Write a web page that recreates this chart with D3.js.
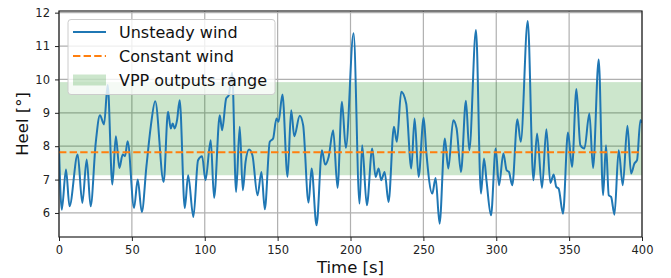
<!DOCTYPE html>
<html>
<head>
<meta charset="utf-8">
<script src="https://cdn.jsdelivr.net/npm/d3@7"></script>
<style>
body { margin: 0; background: #fff; }
text { font-family: "DejaVu Sans", sans-serif; }
</style>
</head>
<body>
<div id="chart"></div>
<script>
// values (turning points of the heel signal)
var time = [0, 1.9, 4.8, 7.2, 12.8, 16.0, 19.0, 21.7, 25.2, 28.1, 30.9, 33.4, 36.6, 39.0, 41.4, 43.7, 45.3, 47.1,
  51.5, 54.0, 56.8, 60.0, 63.0, 66.0, 71.8, 74.8, 76.7, 78.0, 79.4, 81.0, 82.8, 86.3, 88.6, 92.2, 95.4, 98.2,
  100.5, 104.1, 106.4, 110.3, 111.9, 114.7, 116.5, 118.8, 121.5, 124.0, 126.1, 128.0, 130.4, 132.7, 136.2, 138.9,
  141.2, 144.6, 146.9, 149.2, 150.6, 153.3, 156.8, 159.3, 161.4, 165.2, 167.5, 171.2, 173.3, 176.7, 180.4, 182.6,
  185.0, 188.1, 191.1, 194.1, 196.8, 202.1, 206.2, 208.0, 211.2, 214.9, 217.2, 219.3, 221.1, 223.4, 226.1, 229.8,
  231.8, 234.8, 238.2, 241.7, 244.0, 246.7, 250.2, 252.0, 256.1, 258.4, 261.1, 264.7, 267.1, 270.5, 272.8, 275.8,
  279.2, 281.5, 286.1, 289.5, 291.6, 293.4, 296.4, 299.6, 301.9, 304.9, 307.1, 308.7, 311.0, 314.5, 316.8, 321.6,
  325.5, 328.0, 331.4, 334.4, 337.1, 339.4, 341.2, 342.8, 345.8, 349.2, 352.0, 355.0, 357.7, 360.5, 363.9, 366.4,
  370.3, 373.3, 375.3, 377.2, 378.8, 381.1, 384.0, 386.8, 390.0, 392.5, 394.8, 396.6, 398.9, 400];
var heel = [7.95, 6.1, 7.3, 6.2, 7.75, 6.3, 7.6, 6.2, 8.1, 8.93, 8.65, 9.83, 6.85, 8.3, 7.35, 7.75, 7.7, 8.15,
  6.15, 7.0, 6.03, 7.4, 8.6, 9.35, 6.93, 9.03, 8.53, 8.68, 8.53, 8.78, 9.38, 6.15, 7.13, 5.88, 7.58, 7.7,
  6.98, 8.18, 6.45, 8.93, 8.48, 9.43, 9.53, 10.2, 6.63, 8.58, 6.68, 7.53, 7.9, 7.73, 6.53, 7.23,
  6.11, 8.13, 8.23, 8.83, 8.73, 9.55, 7.08, 9.08, 8.3, 8.91, 8.63, 6.31, 7.33, 5.63, 7.88, 7.45,
  7.68, 8.48, 6.75, 9.33, 7.95, 11.38, 6.28, 8.03, 6.23, 7.93, 7.08, 7.33, 6.98, 7.23, 6.33, 8.58,
  8.13, 9.63, 9.28, 7.33, 8.83, 7.08, 8.85, 7.83, 6.58, 7.05, 5.68, 8.23, 7.33, 8.78, 8.53, 7.23,
  9.36, 7.88, 11.48, 6.58, 7.63, 6.93, 5.93, 7.93, 6.83, 7.78, 7.28, 7.23, 6.83, 8.81, 8.13, 11.75,
  6.98, 8.38, 6.75, 8.51, 6.9, 7.15, 6.78, 6.73, 5.98, 8.41, 7.38, 9.71, 8.03, 7.93, 8.98, 7.35,
  10.6, 6.53, 8.03, 6.53, 6.48, 5.95, 7.88, 6.83, 8.61, 7.18, 7.48, 7.58, 8.78, 8.7];
var constantHeel = 7.82;
var vppRange = [7.13, 9.92];
var xTicks = [0, 50, 100, 150, 200, 250, 300, 350, 400];
var yTicks = [6, 7, 8, 9, 10, 11, 12];
var legendLabels = ['Unsteady wind', 'Constant wind', 'VPP outputs range'];

var W = 671, H = 278;
var margin = { top: 11, right: 29, bottom: 41, left: 59 };
var width = W - margin.left - margin.right, height = H - margin.top - margin.bottom;

var svg = d3.select('#chart').append('svg')
  .attr('width', W).attr('height', H);
var g = svg.append('g')
  .attr('transform', 'translate(' + margin.left + ',' + margin.top + ')');

var x = d3.scaleLinear().domain([0, 400]).range([0, width]);
var y = d3.scaleLinear().domain([5.28, 12.05]).range([height, 0]);

g.append('clipPath').attr('id', 'clip')
  .append('rect').attr('width', width).attr('height', height);

// grid
g.selectAll('.gx').data(xTicks).enter().append('line')
  .attr('x1', x).attr('x2', x).attr('y1', 0).attr('y2', height)
  .attr('stroke', '#b0b0b0').attr('stroke-width', 1.2);
g.selectAll('.gy').data(yTicks).enter().append('line')
  .attr('x1', 0).attr('x2', width).attr('y1', y).attr('y2', y)
  .attr('stroke', '#b0b0b0').attr('stroke-width', 1.2);

// VPP band
g.append('rect')
  .attr('x', 0).attr('width', width)
  .attr('y', y(vppRange[1])).attr('height', y(vppRange[0]) - y(vppRange[1]))
  .attr('fill', 'green').attr('fill-opacity', 0.2);

var series = time.map(function (t, i) { return [t, heel[i]]; });
var line = d3.line()
  .x(function (d) { return x(d[0]); })
  .y(function (d) { return y(d[1]); })
  .curve(d3.curveMonotoneX);

g.append('path').datum(series)
  .attr('clip-path', 'url(#clip)')
  .attr('d', line)
  .attr('fill', 'none').attr('stroke', '#1f77b4').attr('stroke-width', 2)
  .attr('stroke-linejoin', 'round');

g.append('line')
  .attr('x1', 0).attr('x2', width)
  .attr('y1', y(constantHeel)).attr('y2', y(constantHeel))
  .attr('stroke', '#ff7f0e').attr('stroke-width', 2).attr('stroke-dasharray', '7.4,3.2');

// axes
var xAxis = g.append('g').attr('transform', 'translate(0,' + height + ')')
  .call(d3.axisBottom(x).tickValues(xTicks).tickSize(4).tickPadding(5));
var yAxis = g.append('g')
  .call(d3.axisLeft(y).tickValues(yTicks).tickFormat(d3.format('d')).tickSize(4).tickPadding(5));
[xAxis, yAxis].forEach(function (a) {
  a.select('.domain').remove();
  a.selectAll('line').attr('stroke', '#222');
  a.selectAll('text').attr('font-size', 11.5).attr('fill', '#222')
    .style('font-family', '"DejaVu Sans", sans-serif');
});

g.append('rect').attr('width', width).attr('height', height)
  .attr('fill', 'none').attr('stroke', '#222').attr('stroke-width', 1.2);

g.append('text')
  .attr('x', width / 2).attr('y', height + 36)
  .attr('text-anchor', 'middle').attr('font-size', 16.5).attr('fill', '#111')
  .text('Time [s]');
g.append('text')
  .attr('transform', 'translate(' + (-31) + ',' + (height / 2) + ') rotate(-90)')
  .attr('text-anchor', 'middle').attr('font-size', 16.5).attr('fill', '#111')
  .text('Heel [°]');

// legend
var lg = svg.append('g').attr('transform', 'translate(68,19.5)');
lg.append('rect')
  .attr('width', 207).attr('height', 75).attr('rx', 3)
  .attr('fill', '#fff').attr('fill-opacity', 0.8)
  .attr('stroke', '#ccc').attr('stroke-width', 1);
var items = lg.selectAll('.item').data(legendLabels).enter().append('g')
  .attr('transform', function (d, i) { return 'translate(0,' + (12.5 + i * 24) + ')'; });
items.filter(function (d, i) { return i === 0; }).append('line')
  .attr('x1', 5).attr('x2', 38).attr('stroke', '#1f77b4').attr('stroke-width', 2);
items.filter(function (d, i) { return i === 1; }).append('line')
  .attr('x1', 5).attr('x2', 38).attr('stroke', '#ff7f0e').attr('stroke-width', 2)
  .attr('stroke-dasharray', '7.4,3.2');
items.filter(function (d, i) { return i === 2; }).append('rect')
  .attr('x', 5).attr('y', -5.5).attr('width', 33).attr('height', 11)
  .attr('fill', 'green').attr('fill-opacity', 0.2);
items.append('text')
  .attr('x', 51).attr('y', 5.8)
  .attr('font-size', 16).attr('fill', '#111')
  .text(function (d) { return d; });
</script>
</body>
</html>
